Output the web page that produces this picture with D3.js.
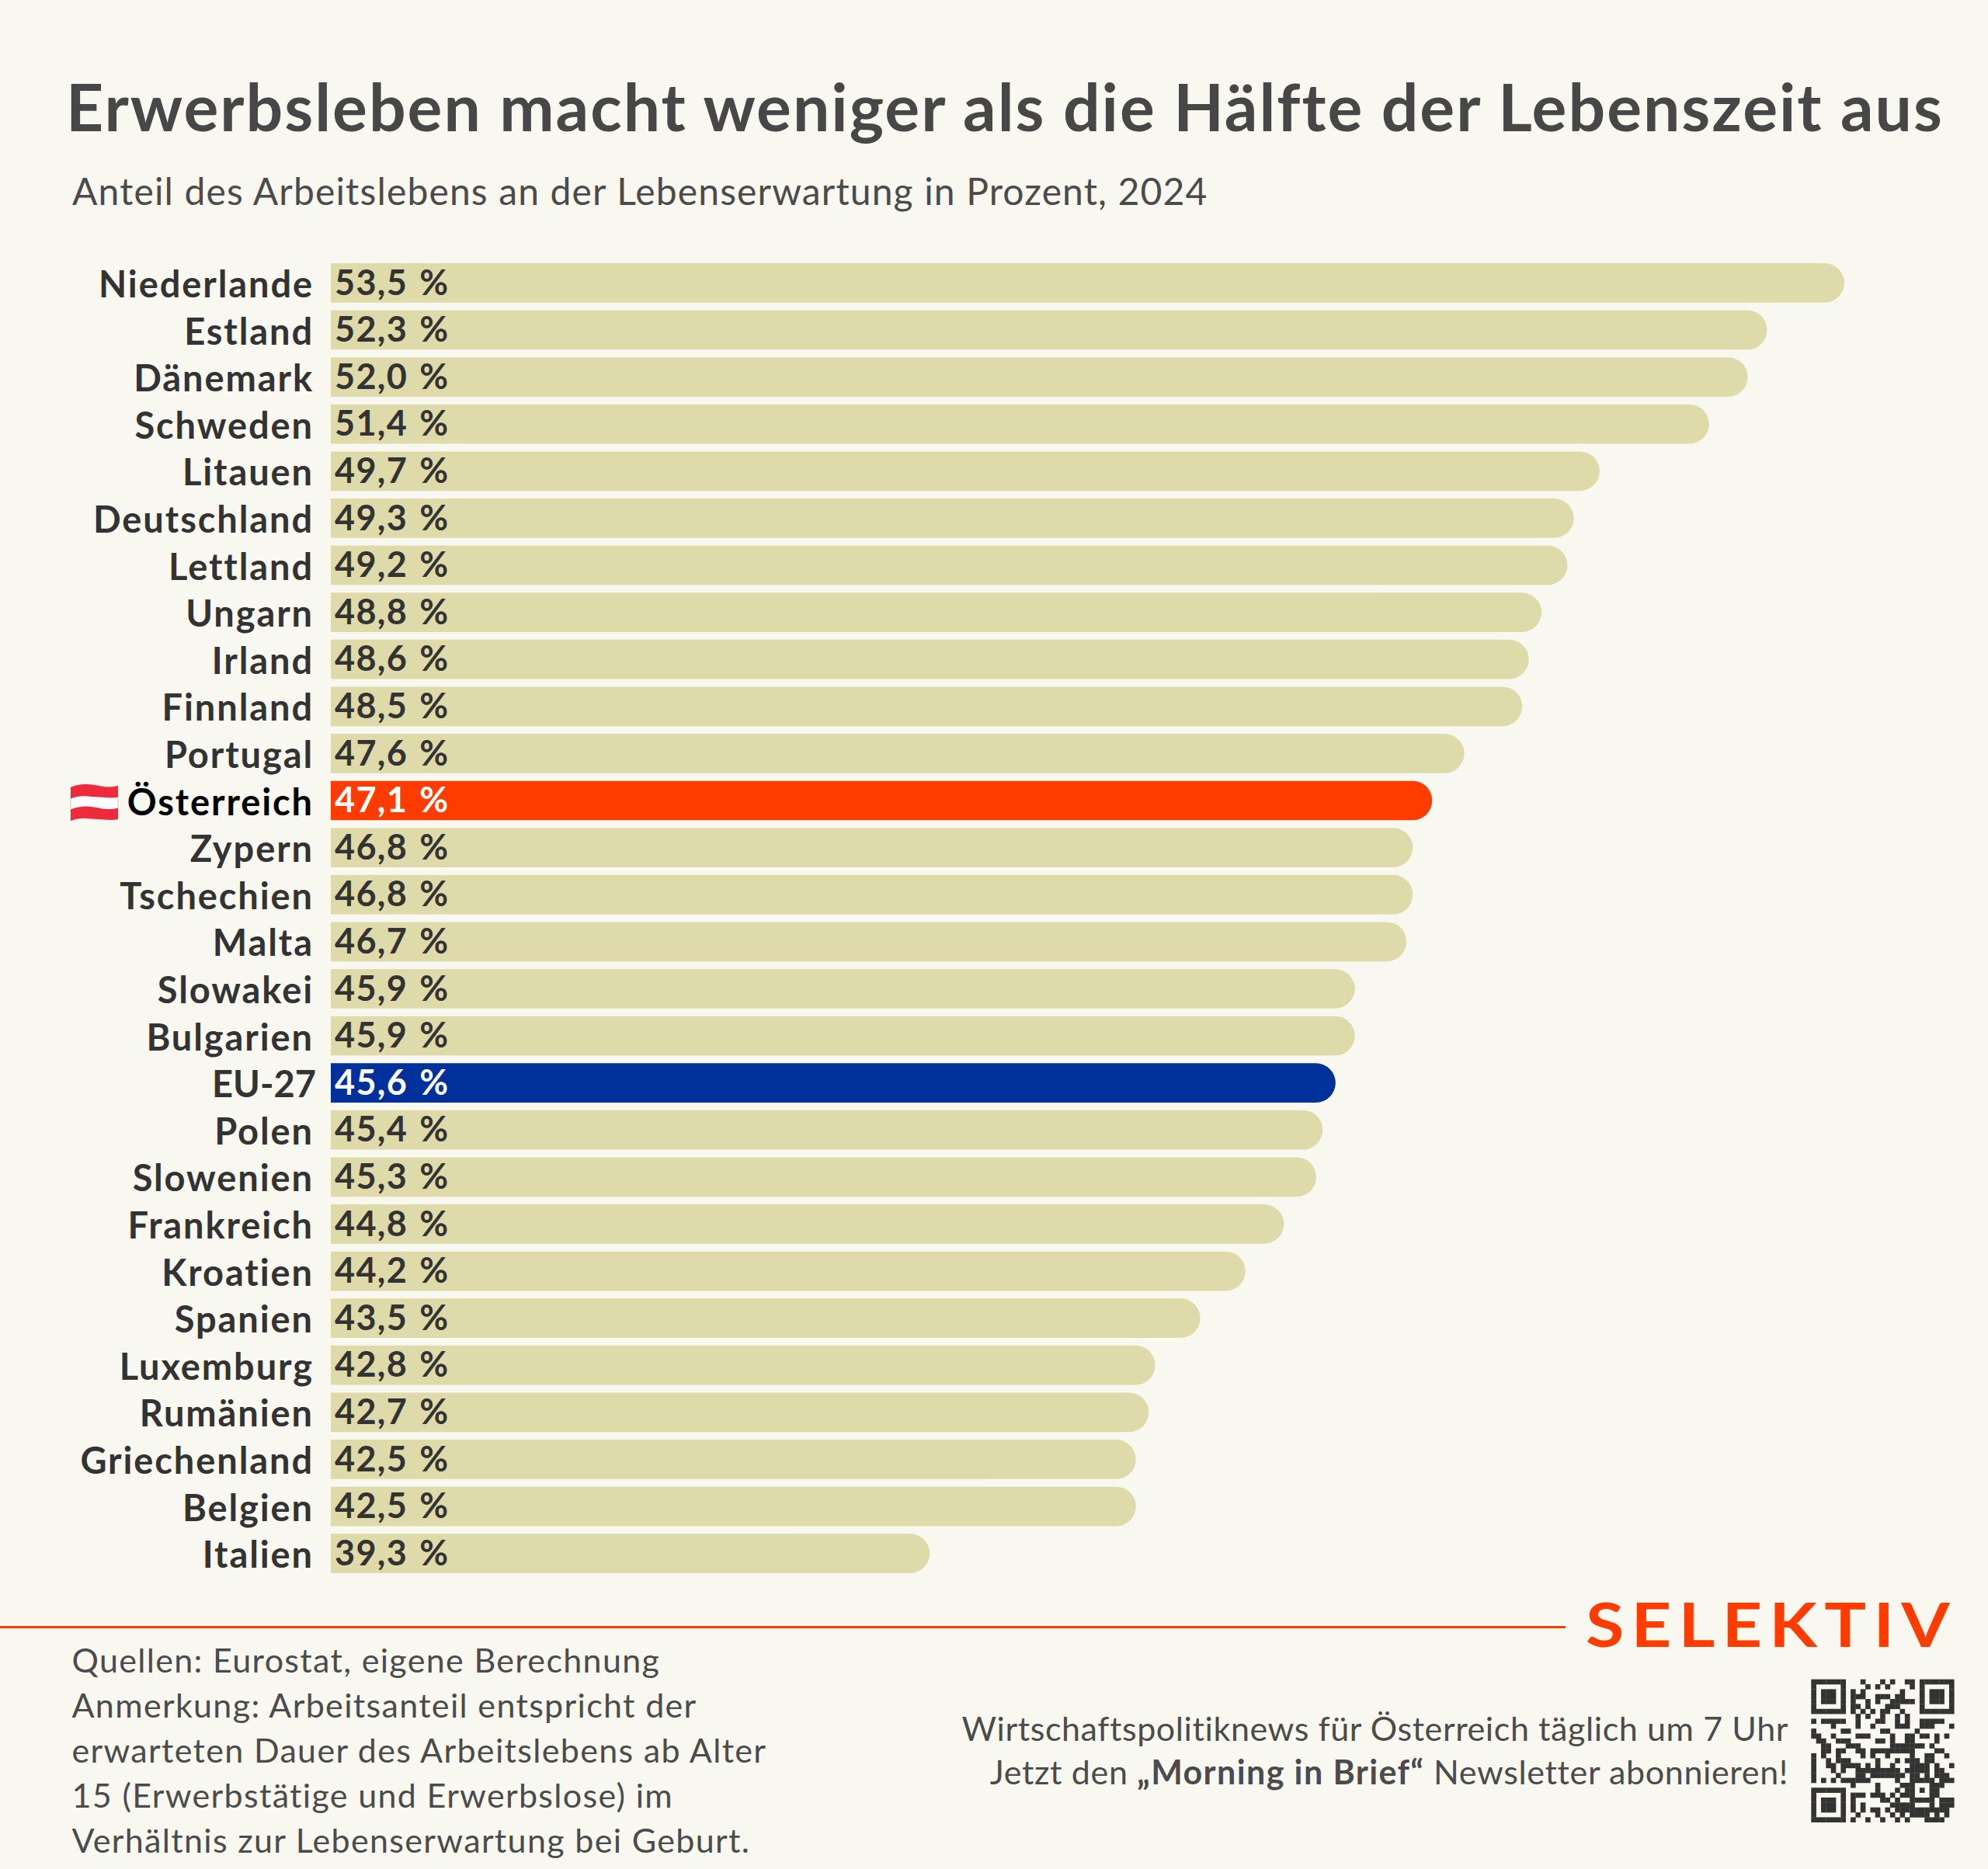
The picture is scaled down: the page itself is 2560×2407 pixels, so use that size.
<!DOCTYPE html>
<html lang="de"><head><meta charset="utf-8">
<script src="https://cdn.jsdelivr.net/npm/d3@7"></script>
<style>html,body{margin:0;padding:0;background:#f9f8f0}svg{display:block}text{font-family:Lato,sans-serif;font-kerning:normal}</style>
</head><body><div id="c"></div>
<script>
const countries=["Niederlande","Estland","Dänemark","Schweden","Litauen","Deutschland","Lettland","Ungarn","Irland","Finnland","Portugal","Österreich","Zypern","Tschechien","Malta","Slowakei","Bulgarien","EU-27","Polen","Slowenien","Frankreich","Kroatien","Spanien","Luxemburg","Rumänien","Griechenland","Belgien","Italien"];
const values=[53.5,52.3,52.0,51.4,49.7,49.3,49.2,48.8,48.6,48.5,47.6,47.1,46.8,46.8,46.7,45.9,45.9,45.6,45.4,45.3,44.8,44.2,43.5,42.8,42.7,42.5,42.5,39.3];
const titleText="Erwerbsleben macht weniger als die Hälfte der Lebenszeit aus";
const subtitleText="Anteil des Arbeitslebens an der Lebenserwartung in Prozent, 2024";
const noteLines=["Quellen: Eurostat, eigene Berechnung","Anmerkung: Arbeitsanteil entspricht der","erwarteten Dauer des Arbeitslebens ab Alter","15 (Erwerbstätige und Erwerbslose) im","Verhältnis zur Lebenserwartung bei Geburt."];
const qrRows=[
"11111110001000101001101111111","10000010000101010000101000001","10111010101000000010001011101","10111010111001110110001011101","10111010100101001111101011101","10000010110100011100001000001","11111110101010110010001111111",
"00000000010100100101000000000","10111110010001100101001111100","00001000010010000111001110001","10000011000000110000010000000","11001000011100001001101101010","01100111000001101001100001000","00110001110000001111111010000","00110110011011111111100001100","10100100001010010000100110010","10010111000001000101110110000","10011011110101001000111101001","10001010011111111101111101100","10000100011011111110110101110","10101011111100000100111110111","00000000100001000011100011100",
"11111110000001000101101011000","10000010111011101011100011000","10111010100000110100111110111","10111010101000001111100010111","10111010101011010111111111110","10000010010001001010111101010","11111110100100100101000111100"];
const W=2560,H=2407;
const colors={bg:"#f9f8f0",bar:"#dfdaaa",at:"#ff3c00",eu:"#00309a",text:"#333333",head:"#474747",soft:"#4b4b4b"};
const svg=d3.select("#c").append("svg").attr("width",W).attr("height",H).attr("viewBox",[0,0,W,H]);
svg.append("rect").attr("width",W).attr("height",H).attr("fill",colors.bg);
const x=d3.scaleLinear().domain([30,53.5]).range([426,2375]);
const y=d3.scaleBand().domain(countries).range([339,2026]).paddingInner(0.163).paddingOuter(0);
const fmt=v=>d3.format(".1f")(v).replace(".",",")+" %";
const fillOf=c=>c==="Österreich"?colors.at:c==="EU-27"?colors.eu:colors.bar;
const rows=countries.map((c,i)=>({c,v:values[i]}));
function barPath(d){const p=d3.path(),t=y(d.c),h=y.bandwidth(),r=h/2,x0=x.range()[0],x1=x(d.v);
 p.moveTo(x0,t);p.lineTo(x1-r,t);p.arc(x1-r,t+r,r,-Math.PI/2,Math.PI/2);p.lineTo(x0,t+h);p.closePath();return p.toString();}
svg.append("g").selectAll("path").data(rows).join("path").attr("d",barPath).attr("fill",d=>fillOf(d.c));
svg.append("g").selectAll("text").data(rows).join("text")
 .attr("x",x.range()[0]+5).attr("y",d=>y(d.c)+y.bandwidth()/2+15.2)
 .attr("font-size",45).attr("font-weight",700).attr("letter-spacing",1.3).attr("word-spacing",3)
 .attr("fill",d=>(d.c==="Österreich"||d.c==="EU-27")?"#fff":colors.text).text(d=>fmt(d.v));
const ax=svg.append("g").attr("transform",`translate(${x.range()[0]},0)`).call(d3.axisLeft(y).tickSize(0).tickPadding(22));
ax.select(".domain").remove();
ax.selectAll("text").attr("font-size",47).attr("font-weight",700).attr("letter-spacing",d=>d==="EU-27"?0:1.9).attr("dy",null).attr("y",18.6)
 .attr("x",d=>d==="EU-27"?-19:-22)
 .attr("fill",d=>d==="Österreich"?"#000":colors.text);
// title
svg.append("text").attr("x",85).attr("y",169).attr("font-size",84).attr("font-weight",700).attr("letter-spacing",2.0).attr("fill",colors.head).text(titleText);
svg.append("text").attr("x",93).attr("y",264).attr("font-size",48).attr("letter-spacing",1.15).attr("fill",colors.soft).text(subtitleText);
// flag
const fl=svg.append("g").attr("transform","translate(91,1011)");
const wave=(a,b)=>`M0 ${a+3}C14 ${a-3} 26 ${a-1} 36 ${a+1}S52 ${a+3} 61 ${a+1}L61 ${b+1}C52 ${b+3} 46 ${b+1} 36 ${b+1}S14 ${b-3} 0 ${b+3}Z`;
fl.append("path").attr("d",wave(0,43)).attr("fill","#fff").attr("stroke","#d8d8d8").attr("stroke-width",1.5);
fl.append("path").attr("d",wave(0,14.5)).attr("fill","#ee2a3d");
fl.append("path").attr("d",wave(28.5,43)).attr("fill","#ee2a3d");
// footer
svg.append("rect").attr("x",0).attr("y",2094).attr("width",2016).attr("height",3).attr("fill",colors.at);
svg.append("text").attr("x",2042).attr("y",2121).attr("font-size",78).attr("font-weight",700).attr("letter-spacing",8).attr("fill",colors.at).attr("textLength",478).attr("lengthAdjust","spacingAndGlyphs").text("SELEKTIV");
svg.append("g").selectAll("text").data(noteLines).join("text").attr("x",92.5).attr("y",(d,i)=>2153.5+i*58).attr("font-size",43).attr("letter-spacing",1.33).attr("fill",colors.soft).text(d=>d);
svg.append("text").attr("x",2303).attr("y",2241.5).attr("text-anchor","end").attr("font-size",43).attr("letter-spacing",.6).attr("fill",colors.soft).text("Wirtschaftspolitiknews für Österreich täglich um 7 Uhr");
const t2=svg.append("text").attr("x",2303).attr("y",2297.5).attr("text-anchor","end").attr("font-size",43).attr("letter-spacing",.65).attr("fill",colors.soft);
t2.append("tspan").text("Jetzt den ");
t2.append("tspan").attr("font-weight",700).attr("letter-spacing",1.4).text("„Morning in Brief“");
t2.append("tspan").text(" Newsletter abonnieren!");
// QR
const qs=d3.scaleBand().domain(d3.range(29)).range([0,184]);
const qr=svg.append("g").attr("transform","translate(2332.3,2162.7)").attr("fill","#333");
qrRows.forEach((row,r)=>{[...row].forEach((b,c)=>{if(b==="1")qr.append("rect").attr("x",qs(c)).attr("y",qs(r)).attr("width",qs.bandwidth()+.3).attr("height",qs.bandwidth()+.3);});});
</script></body></html>
